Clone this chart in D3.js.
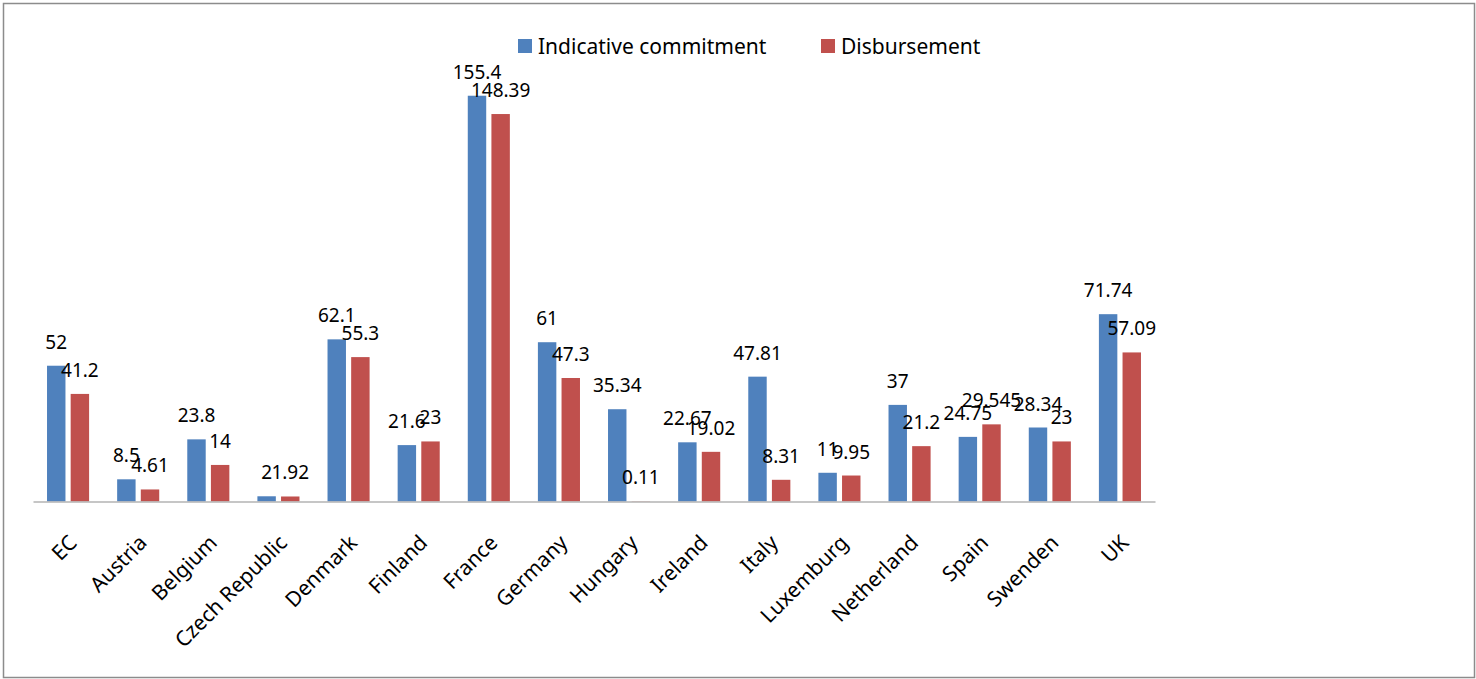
<!DOCTYPE html>
<html>
<head>
<meta charset="utf-8">
<script src="https://cdn.jsdelivr.net/npm/d3@7"></script>
<style>
  body { margin: 0; background: #fff; }
  svg text { font-family: "Noto Sans", sans-serif; fill: #000; }
  .bar-label { font-size: 19px; }
  .cat-label { font-size: 21px; }
  .legend-label { font-size: 21px; }
</style>
</head>
<body>
<svg id="chart"></svg>
<script>
// Data
const categories = ['EC', 'Austria', 'Belgium', 'Czech Republic', 'Denmark', 'Finland', 'France',
  'Germany', 'Hungary', 'Ireland', 'Italy', 'Luxemburg', 'Netherland', 'Spain', 'Swenden', 'UK'];
const commitment = [52, 8.5, 23.8, 2, 62.1, 21.6, 155.4, 61, 35.34, 22.67, 47.81, 11, 37, 24.75, 28.34, 71.74];
const disbursement = [41.2, 4.61, 14, 1.92, 55.3, 23, 148.39, 47.3, 0.11, 19.02, 8.31, 9.95, 21.2, 29.545, 23, 57.09];
const seriesNames = ['Indicative commitment', 'Disbursement'];
const seriesColors = ['#4F81BD', '#C0504D'];
const yMax = 180;

const config = {
  width: 1476,
  height: 679,
  plotLeft: 33,
  plotRight: 1155,
  plotTop: 31.5,
  plotBottom: 501.5
};

const data = categories.map((c, i) => ({
  category: c,
  values: [commitment[i], disbursement[i]]
}));

const svg = d3.select('#chart')
    .attr('width', config.width)
    .attr('height', config.height);

// Outer chart frame
svg.append('rect')
    .attr('x', 3.5)
    .attr('y', 3.5)
    .attr('width', config.width - 5)
    .attr('height', config.height - 5)
    .attr('fill', '#fff')
    .attr('stroke', '#8c8c8c')
    .attr('stroke-width', 1.5);

// Scales
const xScale = d3.scaleBand()
    .domain(categories)
    .range([config.plotLeft, config.plotRight])
    .paddingInner(0.4)
    .paddingOuter(0.2);

const xSub = d3.scaleBand()
    .domain([0, 1])
    .range([0, xScale.bandwidth()])
    .paddingInner(0.22);

const yScale = d3.scaleLinear()
    .domain([0, yMax])
    .range([config.plotBottom, config.plotTop]);

// Bars
const groups = svg.selectAll('.group')
    .data(data)
  .join('g')
    .attr('class', 'group')
    .attr('transform', d => `translate(${xScale(d.category)},0)`);

groups.selectAll('rect')
    .data(d => d.values.map((v, s) => ({value: v, series: s})))
  .join('rect')
    .attr('x', d => xSub(d.series))
    .attr('width', xSub.bandwidth())
    .attr('y', d => yScale(d.value))
    .attr('height', d => yScale(0) - yScale(d.value))
    .attr('fill', d => seriesColors[d.series]);

// Value labels above each bar
groups.selectAll('.bar-label')
    .data(d => d.values.map((v, s) => ({value: v, series: s})))
  .join('text')
    .attr('class', 'bar-label')
    .attr('x', d => xSub(d.series) + xSub.bandwidth() / 2)
    .attr('y', d => yScale(d.value) - 17)
    .attr('text-anchor', 'middle')
    .text(d => d.value);

// Category axis: just the baseline, no ticks
const xAxis = d3.axisBottom(xScale).tickSize(0).tickFormat('');
svg.append('g')
    .attr('transform', `translate(0,${config.plotBottom})`)
    .call(xAxis)
    .call(g => g.select('.domain').attr('stroke', '#b3b3b3').attr('stroke-width', 1.5));

// Rotated category labels
svg.selectAll('.cat-label')
    .data(categories)
  .join('text')
    .attr('class', 'cat-label')
    .attr('text-anchor', 'end')
    .attr('transform', d => `translate(${xScale(d) + xScale.bandwidth() / 2 + 10},544) rotate(-45)`)
    .text(d => d);

// Legend
const legendX = [518, 821];
const legend = svg.selectAll('.legend')
    .data(seriesNames)
  .join('g')
    .attr('class', 'legend')
    .attr('transform', (d, i) => `translate(${legendX[i]},39)`);

legend.append('rect')
    .attr('width', 14)
    .attr('height', 14)
    .attr('fill', (d, i) => seriesColors[i]);

legend.append('text')
    .attr('class', 'legend-label')
    .attr('x', 20)
    .attr('y', 15)
    .text(d => d);
</script>
</body>
</html>
